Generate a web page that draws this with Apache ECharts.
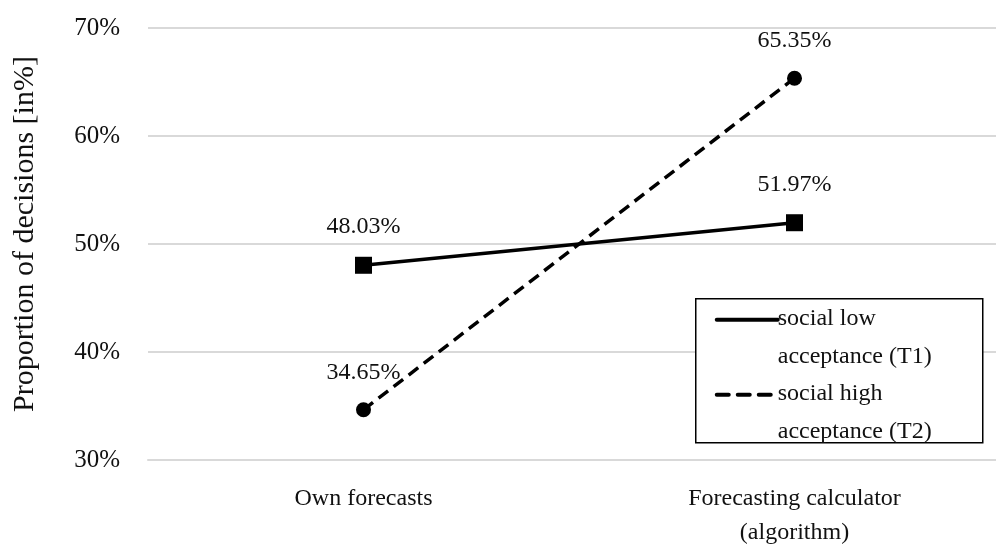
<!DOCTYPE html>
<html>
<head>
<meta charset="utf-8">
<script src="https://cdn.jsdelivr.net/npm/echarts@6/dist/echarts.min.js"></script>
<style>
  html, body { margin: 0; padding: 0; background: #fff; }
  #chart { width: 996px; height: 547px; }
</style>
</head>
<body>
<div id="chart"></div>
<script>
// Decision sources on the x axis
const categories = ['Own forecasts', 'Forecasting calculator\n(algorithm)'];
// Share of decisions per treatment, in percent
const lowAcceptance = [48.03, 51.97];
const highAcceptance = [34.65, 65.35];
const seriesNames = ['social low\nacceptance (T1)', 'social high\nacceptance (T2)'];
const yTicks = [30, 40, 50, 60, 70];

const FONT = '"Liberation Serif", "DejaVu Serif", serif';
const chart = echarts.init(document.getElementById('chart'), null, { renderer: 'canvas' });

const labelStyle = {
  show: true,
  position: 'top',
  distance: 18,
  fontFamily: FONT,
  fontSize: 24,
  color: '#111',
  formatter: p => p.value.toFixed(2) + '%'
};

chart.setOption({
  animation: false,
  grid: { left: 148, right: -14, top: 28, bottom: 87, outerBoundsMode: 'none', containLabel: false },
  xAxis: {
    type: 'category',
    data: categories,
    boundaryGap: true,
    axisLine: { show: true, lineStyle: { color: '#d9d9d9', width: 2 } },
    axisTick: { show: false },
    axisLabel: {
      fontFamily: FONT, fontSize: 24, color: '#111', margin: 22, lineHeight: 34
    }
  },
  yAxis: {
    type: 'value',
    min: yTicks[0],
    max: yTicks[yTicks.length - 1],
    interval: 10,
    name: 'Proportion of decisions [in%]',
    nameLocation: 'middle',
    nameGap: 108,
    nameTextStyle: { fontFamily: FONT, fontSize: 30, color: '#111', padding: [0, 0, 0, 20] },
    axisLine: { show: false },
    axisTick: { show: false },
    splitLine: { lineStyle: { color: '#d9d9d9', width: 2 } },
    axisLabel: {
      fontFamily: FONT, fontSize: 25, color: '#111', margin: 28,
      formatter: v => v + '%'
    }
  },
  series: [
    {
      name: seriesNames[0],
      type: 'line',
      data: lowAcceptance,
      symbol: 'rect',
      symbolSize: 17,
      lineStyle: { color: '#000', width: 3.5 },
      itemStyle: { color: '#000' },
      label: labelStyle
    },
    {
      name: seriesNames[1],
      type: 'line',
      data: highAcceptance,
      symbol: 'circle',
      symbolSize: 15,
      lineStyle: { color: '#000', width: 3.5, type: [12, 7] },
      itemStyle: { color: '#000' },
      label: labelStyle
    }
  ],
  graphic: [
    {
      type: 'group',
      left: 695,
      top: 298,
      z: 100,
      children: [
        { type: 'rect', z: 100, shape: { x: 0, y: 0, width: 287, height: 144 },
          style: { fill: '#fff', stroke: '#000', lineWidth: 1.5 } },
        { type: 'line', z: 101, shape: { x1: 21, y1: 21, x2: 82, y2: 21 },
          style: { stroke: '#000', lineWidth: 4, lineCap: 'round' } },
        { type: 'line', z: 101, shape: { x1: 21, y1: 96, x2: 82, y2: 96 },
          style: { stroke: '#000', lineWidth: 4, lineCap: 'round', lineDash: [12, 9] } },
        { type: 'text', z: 101, x: 82, y: 1,
          style: { text: seriesNames[0], fontFamily: FONT, fontSize: 24, fill: '#111', lineHeight: 38 } },
        { type: 'text', z: 101, x: 82, y: 76,
          style: { text: seriesNames[1], fontFamily: FONT, fontSize: 24, fill: '#111', lineHeight: 38 } }
      ]
    }
  ]
});
</script>
</body>
</html>
